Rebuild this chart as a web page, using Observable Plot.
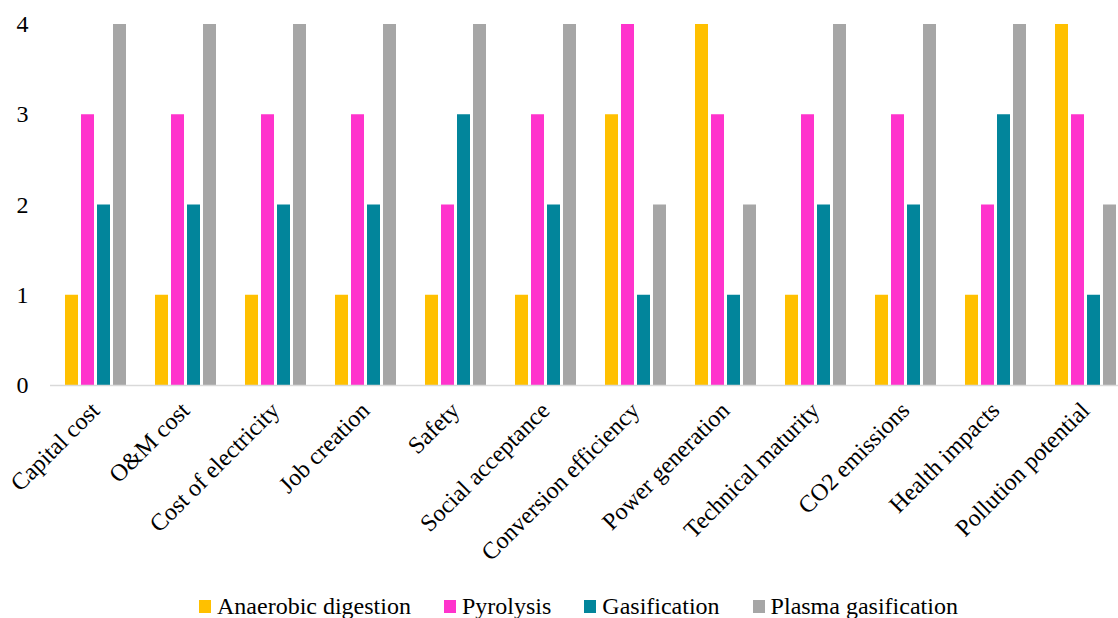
<!DOCTYPE html>
<html>
<head>
<meta charset="utf-8">
<script src="https://cdn.jsdelivr.net/npm/d3@7"></script>
<script src="https://cdn.jsdelivr.net/npm/@observablehq/plot@0.6"></script>
<style>
  html, body { margin: 0; padding: 0; background: #fff; overflow: hidden; }
  #wrap { position: relative; width: 1118px; height: 618px; font-family: "Liberation Serif", "Times New Roman", serif; }
  #legend { position: absolute; left: 199px; top: 591px; display: flex; justify-content: flex-start; gap: 33px; font-family: "Liberation Serif", serif; font-size: 24px; color: #000; line-height: 30px; }
  #legend .item { display: flex; align-items: center; gap: 6px; white-space: nowrap; }
  #legend .sw { width: 12px; height: 13px; display: inline-block; }
</style>
</head>
<body>
<div id="wrap">
  <div id="chart"></div>
  <div id="legend"></div>
</div>
<script>
// Criteria compared across the four waste-to-energy technologies
const criteria = [
  "Capital cost", "O&M cost", "Cost of electricity", "Job creation", "Safety",
  "Social acceptance", "Conversion efficiency", "Power generation",
  "Technical maturity", "CO2 emissions", "Health impacts", "Pollution potential"
];
const technologies = ["Anaerobic digestion", "Pyrolysis", "Gasification", "Plasma gasification"];
const colors = ["#FFC000", "#FF33CC", "#02859B", "#A6A6A6"];

// Scores per criterion (same order as criteria)
const anaerobicDigestion = [1, 1, 1, 1, 1, 1, 3, 4, 1, 1, 1, 4];
const pyrolysis          = [3, 3, 3, 3, 2, 3, 4, 3, 3, 3, 2, 3];
const gasification       = [2, 2, 2, 2, 3, 2, 1, 1, 2, 2, 3, 1];
const plasmaGasification = [4, 4, 4, 4, 4, 4, 2, 2, 4, 4, 4, 2];
const yTicks = [0, 1, 2, 3, 4];

const seriesValues = [anaerobicDigestion, pyrolysis, gasification, plasmaGasification];
const rows = [];
criteria.forEach((c, i) => {
  technologies.forEach((t, j) => {
    rows.push({criterion: c, technology: t, score: seriesValues[j][i]});
  });
});

const serif = "'Liberation Serif', 'Times New Roman', serif";

const chart = Plot.plot({
  width: 1118,
  height: 590,
  marginLeft: 50,
  marginRight: -12,
  marginTop: 24,
  marginBottom: 205,
  style: {fontFamily: serif, fontSize: "24px", color: "#000", background: "#fff"},
  fx: {domain: criteria, paddingInner: 0, paddingOuter: 0, label: null},
  x: {domain: technologies, paddingInner: 0.2, paddingOuter: 0.86, axis: null},
  y: {domain: [0, 4], label: null},
  color: {domain: technologies, range: colors},
  marks: [
    Plot.barY(rows, {fx: "criterion", x: "technology", y: "score", fill: "technology"}),
    Plot.ruleY([0], {stroke: "#D9D9D9", strokeWidth: 1.5}),
    Plot.axisY(yTicks, {tickSize: 0, tickPadding: 22, tickFormat: d3.format("d"), label: null, fontSize: 24, fontFamily: serif, fontVariant: "normal"}),
    Plot.axisFx({anchor: "bottom", tickRotate: -45, tickSize: 0, tickPadding: 8, dx: 0, dy: 13, label: null, fontSize: 24, fontFamily: serif})
  ]
});
document.getElementById("chart").appendChild(chart);

// Legend row below the plot
const legend = document.getElementById("legend");
technologies.forEach((t, j) => {
  const item = document.createElement("span");
  item.className = "item";
  const sw = document.createElement("span");
  sw.className = "sw";
  sw.style.background = colors[j];
  const label = document.createElement("span");
  label.textContent = t;
  item.appendChild(sw);
  item.appendChild(label);
  legend.appendChild(item);
});
</script>
</body>
</html>
